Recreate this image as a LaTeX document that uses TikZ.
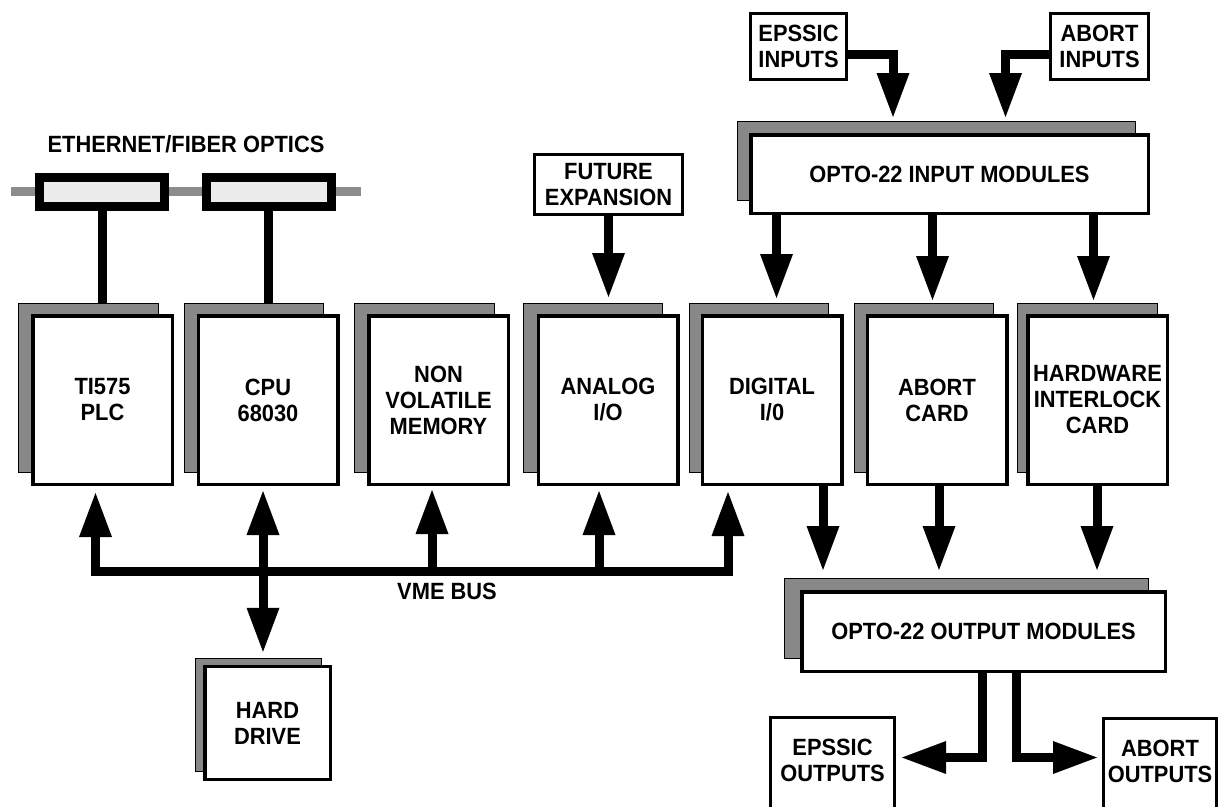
\documentclass[tikz,border=0pt]{standalone}
\usepackage{fontspec}
\setmainfont{Liberation Sans}[FakeStretch=0.93]
\usetikzlibrary{arrows.meta,shadows,calc}
\definecolor{shgray}{HTML}{888888}
\definecolor{ethgray}{HTML}{8C8C8C}
\definecolor{ethfill}{HTML}{ECECEC}
\begin{document}
\begin{tikzpicture}[x=1pt,y=-1pt,
  every node/.style={font=\bfseries\fontsize{23.5}{26}\selectfont, align=center, text=black},
  box/.style={draw=black, line width=3pt, fill=white, inner sep=0pt},
  card/.style={box, line width=3.5pt, minimum width=139.5pt, minimum height=168.5pt},
  sh/.style 2 args={general shadow={shadow xshift=#1, shadow yshift=#2, fill=shgray, draw=black, line width=0.8pt}},
  arr/.style={line width=9pt, -{Triangle[width=33pt,length=44pt,line width=0pt]}},
  dbl/.style={line width=9pt, {Triangle[width=33pt,length=44pt,line width=0pt]}-{Triangle[width=33pt,length=44pt,line width=0pt]}},
  thickln/.style={line width=9pt},
]
\useasboundingbox (0,0) rectangle (1225,806);

% Ethernet / fiber optics
\coordinate (ethL) at (11,191.5);
\coordinate (ethR) at (361,191.5);
\draw[ethgray, line width=9pt] (ethL) -- (ethR);
\node[draw=black, line width=9pt, fill=ethfill, minimum width=125pt, minimum height=29pt, inner sep=0pt] (e1) at (102,191.5) {};
\node[draw=black, line width=9pt, fill=ethfill, minimum width=125pt, minimum height=29pt, inner sep=0pt] (e2) at (268.5,191.5) {};
\node (ethlbl) at (186,144) {ETHERNET/FIBER OPTICS};

% connectors drawn before cards
\coordinate (tlTop) at (102,314);
\coordinate (cpuTop) at (268.5,314);
\draw[thickln] (e1.south) -- (tlTop);
\draw[thickln] (e2.south) -- (cpuTop);

% Cards
\node[card, sh={-14pt}{12pt}] (tl) at (102.5,400) {TI575\\PLC};
\node[card, sh={-14pt}{12pt}] (cpu) at (268,400) {CPU\\68030};
\node[card, sh={-14pt}{12pt}] (nv) at (438.5,400) {NON\\VOLATILE\\MEMORY};
\node[card, sh={-15pt}{12pt}] (an) at (608,400) {ANALOG\\I/O};
\node[card, sh={-13pt}{12pt}] (dg) at (772,400) {DIGITAL\\I/0};
\node[card, sh={-13pt}{12pt}] (ab) at (937,400) {ABORT\\CARD};
\node[card, sh={-10pt}{12pt}] (hw) at (1097.5,400) {HARDWARE\\INTERLOCK\\CARD};

% Future expansion
\node[box, minimum width=148pt, minimum height=60pt] (fut) at (608.5,184.5) {FUTURE\\EXPANSION};
\draw[arr, shorten >=17pt] (fut.south) -- (fut.south |- an.north);

% Inputs
\node[box, minimum width=96pt, minimum height=66pt] (ei) at (798.5,46.5) {EPSSIC\\INPUTS};
\node[box, minimum width=98pt, minimum height=66pt] (ai) at (1099.5,46.5) {ABORT\\INPUTS};
\node[box, line width=3.5pt, minimum width=397.5pt, minimum height=78.5pt, sh={-13pt}{13pt}] (in) at (949.5,174) {OPTO-22 INPUT MODULES};
\draw[arr] ([yshift=-8pt]ei.east) -| ([xshift=-56.5pt,yshift=16pt]in.north);
\draw[arr] ([yshift=-8pt]ai.west) -| ([xshift=56pt,yshift=16pt]in.north);

\draw[arr, shorten >=16pt] ([xshift=4.5pt]dg.north |- in.south) -- ([xshift=4.5pt]dg.north);
\draw[arr, shorten >=14pt] ([xshift=-4.5pt]ab.north |- in.south) -- ([xshift=-4.5pt]ab.north);
\draw[arr, shorten >=14pt] ([xshift=-4pt]hw.north |- in.south) -- ([xshift=-4pt]hw.north);

% Outputs
\node[box, line width=3.5pt, minimum width=363.5pt, minimum height=79.5pt, sh={-17pt}{13pt}] (out) at (983.5,631.5) {OPTO-22 OUTPUT MODULES};
\draw[arr, shorten >=20pt] ([xshift=51pt]dg.south) -- ([xshift=51pt]dg.south |- out.north);
\draw[arr, shorten >=20pt] ([xshift=2pt]ab.south) -- ([xshift=2pt]ab.south |- out.north);
\draw[arr, shorten >=20pt] ([xshift=-0.5pt]hw.south) -- ([xshift=-0.5pt]hw.south |- out.north);

\node[box, minimum width=124pt, minimum height=92pt, text depth=6pt] (eo) at (832.5,763.5) {EPSSIC\\OUTPUTS};
\node[box, minimum width=113pt, minimum height=92pt, text depth=6pt] (ao) at (1160,764) {ABORT\\OUTPUTS};
\coordinate (eoIn) at (eo.east |- 0,757.5);
\coordinate (aoIn) at (ao.west |- 0,757.5);
\draw[arr, shorten >=6pt] ([xshift=-1.5pt]out.south) |- (eoIn);
\draw[arr, shorten >=5pt] ([xshift=32.5pt]out.south) |- (aoIn);

% VME bus
\coordinate (busL) at (95.5,571.5);
\coordinate (busR) at (728,571.5);
\draw[thickln, line cap=rect] (busL) -- (busR);
\node (vme) at (447,591) {VME BUS};
\draw[arr, shorten >=7pt] ([xshift=-7pt]tl.south |- busL) -- ([xshift=-7pt]tl.south);
\draw[arr, shorten >=4pt] ([xshift=-6.5pt]nv.south |- busL) -- ([xshift=-6.5pt]nv.south);
\draw[arr, shorten >=5pt] ([xshift=-9pt]an.south |- busL) -- ([xshift=-9pt]an.south);
\draw[arr, shorten >=6pt] ([xshift=-44pt]dg.south |- busL) -- ([xshift=-44pt]dg.south);

% Hard drive
\node[card, minimum width=125.5pt, minimum height=113pt, sh={-9pt}{8pt}] (hd) at (267.5,723) {HARD\\DRIVE};
\draw[dbl, shorten <=5pt, shorten >=13pt] ([xshift=-5pt]cpu.south) -- ([xshift=-5pt]cpu.south |- hd.north);
\end{tikzpicture}
\end{document}
